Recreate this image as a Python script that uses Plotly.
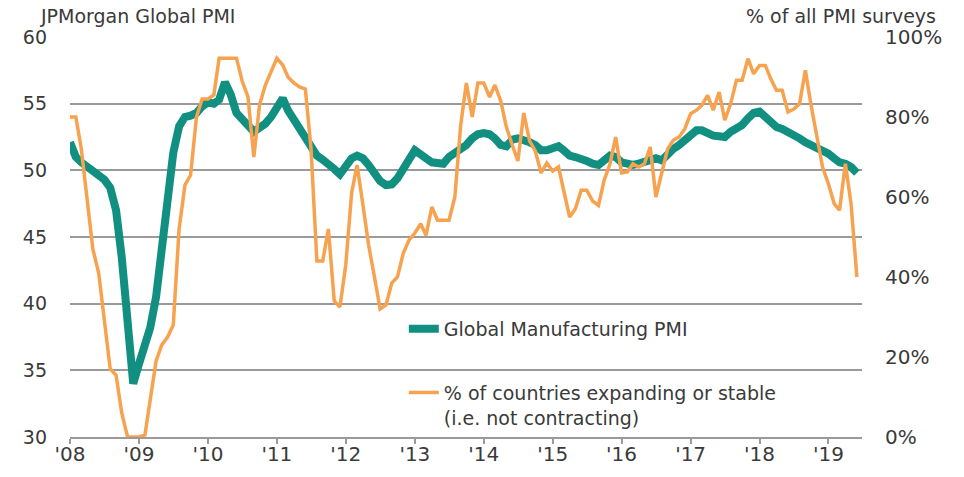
import pandas as pd
import plotly.graph_objects as go

start_month = "2008-01-01"

pmi = [52.1, 51.0, 50.6, 50.3, 50.0, 49.6, 49.3, 48.7, 47.0, 43.5, 39.3, 34.0,
       35.5, 36.8, 38.2, 40.5, 44.5, 48.5, 51.3, 53.3, 54.0, 54.1, 54.3, 54.8,
       55.1, 55.0, 55.3, 56.6, 55.7, 54.3, 53.9, 53.4, 52.9, 53.2, 53.5, 54.0,
       54.6, 55.4, 54.5, 53.8, 53.2, 52.3, 51.6, 51.1, 50.8, 50.5, 50.1, 49.7,
       50.4, 50.9, 51.1, 50.9, 50.4, 49.7, 49.2, 48.9, 48.95, 49.4, 50.0, 50.8,
       51.5, 51.1, 50.9, 50.6, 50.5, 50.5, 51.0, 51.3, 51.6, 51.9, 52.4, 52.7,
       52.8, 52.7, 52.4, 51.9, 51.8, 52.3, 52.4, 52.3, 52.1, 51.9, 51.5, 51.5,
       51.6, 51.8, 51.5, 51.1, 51.0, 50.9, 50.7, 50.5, 50.4, 50.75, 51.1, 51.0,
       50.6, 50.5, 50.4, 50.5, 50.6, 50.75, 50.9, 50.75, 51.25, 51.6, 51.9, 52.25,
       52.75, 53.0, 53.0, 52.75, 52.6, 52.55, 52.5, 52.9, 53.1, 53.4, 53.9, 54.3,
       54.4, 54.0, 53.5, 53.25, 53.1, 52.9, 52.6, 52.4, 52.1, 51.9, 51.75, 51.6,
       51.25, 50.9, 50.6, 50.5, 50.25, 49.8]

pct_expanding = [80, 80, 72, 60, 47, 41, 30, 17, 15.5, 6, 0, 0,
                 0, 0.5, 9, 19, 23, 25, 28, 52, 63, 65.5, 80, 84.5,
                 84.5, 85.5, 94.7, 94.7, 94.7, 94.7, 89, 85, 70, 83, 88, 91.5,
                 94.7, 93, 90, 88.5, 87.5, 87, 72, 44, 44, 52, 34, 32.5,
                 43, 61, 68, 58, 48, 40, 32, 33, 38.5, 40, 46, 49.2,
                 51, 53.3, 50.4, 57.5, 54.2, 54.2, 54.2, 60, 78, 88.5, 80, 88.5,
                 88.5, 85, 88, 84, 77.5, 73, 69, 81, 74, 71.5, 66, 68.5,
                 66.5, 67.5, 62, 55, 57, 61.7, 61.7, 59, 57.9, 64.2, 68.3, 75,
                 66, 66.25, 68.3, 67.5, 68.3, 72.5, 60, 66, 72, 74.2, 75, 77,
                 80.8, 81.7, 82.9, 85.4, 81.7, 86.25, 79.2, 83.3, 89.2, 89.2, 94.6, 90.8,
                 92.9, 92.9, 89.6, 86.7, 86.7, 81.25, 82, 83.3, 91.7, 83, 75, 67.5,
                 63.3, 58.3, 56.7, 68.3, 58.3, 40]

year_ticks = [f"{y}-01-01" for y in range(2008, 2020)]
year_labels = [f"'{y % 100:02d}" for y in range(2008, 2020)]
left_ticks = [30, 35, 40, 45, 50, 55, 60]
right_ticks = [0, 20, 40, 60, 80, 100]
right_labels = [f"{v}%" for v in right_ticks]

months = pd.date_range(start_month, periods=len(pmi), freq="MS")

TEAL = "#119082"
ORANGE = "#f7a24f"
TEXT = "#3a3a3a"
GRID = "#9a9a9a"
FONT = "DejaVu Sans"

fig = go.Figure()
fig.add_trace(go.Scatter(
    x=months, y=pmi, mode="lines", name="Global Manufacturing PMI",
    line=dict(color=TEAL, width=8), legendgroup="a", yaxis="y"))
fig.add_trace(go.Scatter(
    x=months, y=pct_expanding, mode="lines",
    name="% of countries expanding or stable<br>(i.e. not contracting)",
    line=dict(color=ORANGE, width=3.5), legendgroup="b", yaxis="y2"))

fig.update_layout(
    width=964, height=477,
    margin=dict(l=70, r=102, t=37, b=40, autoexpand=False),
    paper_bgcolor="white", plot_bgcolor="white",
    font=dict(family=FONT, color=TEXT, size=19),
    xaxis=dict(
        range=["2008-01-01", "2019-06-28"],
        tickvals=year_ticks, ticktext=year_labels,
        showgrid=False, zeroline=False, automargin=False,
        showline=True, linecolor=GRID, linewidth=1.6,
        ticks="outside", ticklen=5, tickcolor=GRID, tickwidth=1.5,
        ticklabelstandoff=-7,
        tickfont=dict(size=20, color=TEXT, family=FONT),
    ),
    yaxis=dict(
        range=[30, 60], tickvals=left_ticks, automargin=False,
        showgrid=True, gridcolor=GRID, gridwidth=1.6,
        zeroline=False, showline=False, ticks="",
        tickfont=dict(size=19, color=TEXT, family=FONT),
        ticklabelstandoff=22,
    ),
    yaxis2=dict(
        range=[0, 100], tickvals=right_ticks, ticktext=right_labels,
        overlaying="y", side="right", automargin=False,
        showgrid=False, zeroline=False, showline=False, ticks="",
        tickfont=dict(size=20, color=TEXT, family=FONT),
        ticklabelstandoff=22,
    ),
    showlegend=True,
    legend=dict(
        x=0.4215, y=0.3175, xanchor="left", yanchor="top",
        bgcolor="rgba(0,0,0,0)", borderwidth=0,
        traceorder="grouped", tracegroupgap=36, valign="top",
        font=dict(size=19, color=TEXT, family=FONT),
    ),
    annotations=[
        dict(text="JPMorgan Global PMI", xref="paper", yref="paper",
             x=-0.04, y=1.0, xanchor="left", yanchor="bottom", yshift=8,
             showarrow=False, font=dict(size=19, color=TEXT, family=FONT)),
        dict(text="% of all PMI surveys", xref="paper", yref="paper",
             x=1.096, y=1.0, xanchor="right", yanchor="bottom", yshift=8,
             showarrow=False, font=dict(size=19, color=TEXT, family=FONT)),
    ],
)

fig.write_html("out.html")
